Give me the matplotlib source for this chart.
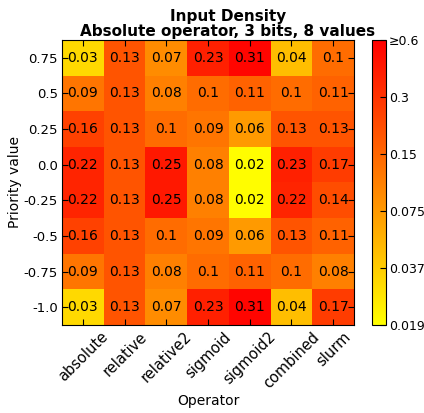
import numpy as np
import matplotlib
matplotlib.use('Agg')
import matplotlib.pyplot as plt
from matplotlib.colors import LogNorm
from matplotlib.cm import ScalarMappable

operators = ['absolute', 'relative', 'relative2', 'sigmoid', 'sigmoid2', 'combined', 'slurm']
priorities = ['0.75', '0.5', '0.25', '0.0', '-0.25', '-0.5', '-0.75', '-1.0']
density = np.array([
	[0.03, 0.13, 0.07, 0.23, 0.31, 0.04, 0.10],
	[0.09, 0.13, 0.08, 0.10, 0.11, 0.10, 0.11],
	[0.16, 0.13, 0.10, 0.09, 0.06, 0.13, 0.13],
	[0.22, 0.13, 0.25, 0.08, 0.02, 0.23, 0.17],
	[0.22, 0.13, 0.25, 0.08, 0.02, 0.22, 0.14],
	[0.16, 0.13, 0.10, 0.09, 0.06, 0.13, 0.11],
	[0.09, 0.13, 0.08, 0.10, 0.11, 0.10, 0.08],
	[0.03, 0.13, 0.07, 0.23, 0.31, 0.04, 0.17],
])
cbar_ticks = [0.01875, 0.0375, 0.075, 0.15, 0.3, 0.6]
cbar_labels = ['0.019', '0.037', '0.075', '0.15', '0.3', '≥0.6']

plt.rcParams['font.family'] = 'DejaVu Sans'
fig = plt.figure(figsize=(4.24, 4.13), dpi=100)
ax = fig.add_axes([62 / 424, 1 - 325 / 413, 292 / 424, 285 / 413])
cax = fig.add_axes([372 / 424, 1 - 325 / 413, 14 / 424, 285 / 413])

# cells are coloured against the data range, the bar shows the nominal scale
img_norm = LogNorm(vmin=0.0195, vmax=0.33)
ax.imshow(density, cmap='autumn_r', norm=img_norm, aspect='auto', interpolation='nearest')
for i in range(density.shape[0]):
	for j in range(density.shape[1]):
		ax.text(j, i, '{:g}'.format(density[i, j]), ha='center', va='center', fontsize=10)

ax.set_xticks(range(len(operators)))
ax.set_xticklabels(operators, rotation=45, fontsize=10.5)
ax.set_yticks(range(len(priorities)))
ax.set_yticklabels(priorities, fontsize=9.5)
ax.tick_params(direction='in', top=True, right=True, length=4, pad=3)
ax.set_xlabel('Operator', fontsize=10, labelpad=2)
ax.set_ylabel('Priority value', fontsize=10, labelpad=1)
ax.set_title('Input Density\nAbsolute operator, 3 bits, 8 values', x=0.568, fontsize=11,
	fontweight='bold', pad=3, linespacing=1.0)

sm = ScalarMappable(norm=LogNorm(vmin=cbar_ticks[0], vmax=cbar_ticks[-1]), cmap='autumn_r')
cb = fig.colorbar(sm, cax=cax)
cb.set_ticks(cbar_ticks)
cb.set_ticklabels(cbar_labels)
cb.minorticks_off()
cax.tick_params(direction='in', length=4, labelsize=9, pad=2)

fig.savefig('out.png', dpi=100)
